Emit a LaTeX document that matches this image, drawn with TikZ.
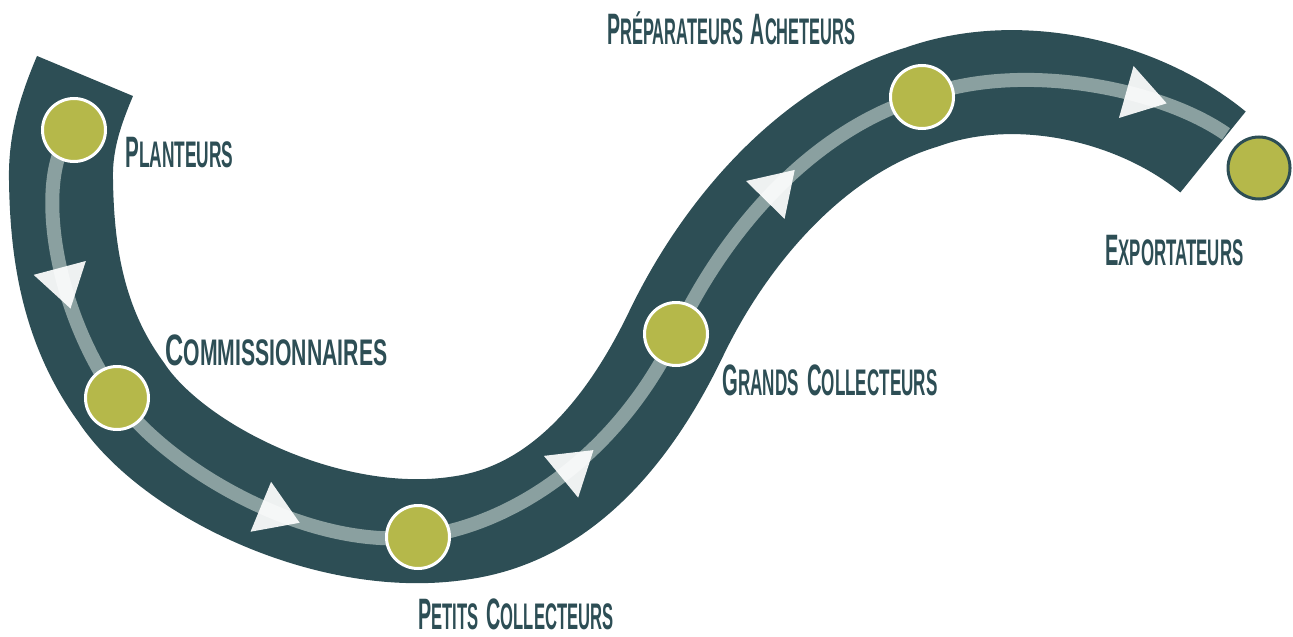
\documentclass[tikz,border=0pt]{standalone}
\usepackage{fontspec}
\setmainfont{Liberation Sans}
\usetikzlibrary{decorations.markings}
\definecolor{bandc}{RGB}{45,78,85}
\definecolor{lanec}{RGB}{138,160,160}
\definecolor{olivec}{RGB}{181,184,74}
\newcommand{\capw}[2]{{\fontsize{22pt}{22pt}\selectfont #1}{\fontsize{18.5pt}{18.5pt}\selectfont #2}}
\newcommand{\fitw}[2]{\resizebox{#1}{\height}{\bfseries #2}}
\newcommand{\wsp}{\hspace{9pt}}
\begin{document}
\begin{tikzpicture}[x=0.5pt,y=-0.5pt,
  bandline/.style={draw=bandc,line width=52pt,line cap=butt},
  laneline/.style={draw=lanec,line width=7pt,line cap=butt},
  arrowat/.style={postaction={decorate,decoration={markings,
     mark=at position #1 with {\fill[white,opacity=0.92] (14pt,0pt) -- (-7pt,13.5pt) -- (-7pt,-13.5pt) -- cycle;}}}},
  station/.style={circle,fill=olivec,draw=white,line width=1.5pt,minimum size=31.5pt,inner sep=0pt},
  endstation/.style={circle,fill=olivec,draw=bandc,line width=1.5pt,minimum size=31pt,inner sep=0pt},
  lab/.style={text=bandc,inner sep=0pt,anchor=base west}]
\useasboundingbox (0,0) rectangle (1293,636);
% positions
\coordinate (bs) at (85,76);
\coordinate (b1) at (61,180);
\coordinate (b2) at (121,392);
\coordinate (b3) at (460,528);
\coordinate (p1) at (74,130);
\coordinate (p2) at (117,398);
\coordinate (p3) at (418,537);
\coordinate (p4) at (676,334);
\coordinate (p5) at (922,97);
\coordinate (be) at (1213,152);
\coordinate (le) at (1226,134);
% band
\draw[bandline] (bs) .. controls (72,107) and (60,140) .. (b1)
  .. controls (62,250) and (72,325) .. (b2)
  .. controls (172,470) and (330,548) .. (b3)
  .. controls (555,515) and (625,440) .. (p4)
  .. controls (725,232) and (812,130) .. (p5)
  .. controls (1020,62) and (1140,92) .. (be);
% lane segments with arrows
\draw[laneline,arrowat=0.55] (p1) .. controls (35,165) and (48,300) .. (p2);
\draw[laneline,arrowat=0.57] (p2) .. controls (169,470) and (308,550) .. (p3);
\draw[laneline,arrowat=0.5] (p3) .. controls (518,525) and (620,450) .. (p4);
\draw[laneline,arrowat=0.5] (p4) .. controls (725,230) and (812,130) .. (p5);
\draw[laneline,arrowat=0.7] (p5) .. controls (1020,60) and (1160,88) .. (le);
% stations
\node[station] (n1) at (p1) {};
\node[station] (n2) at (p2) {};
\node[station] (n3) at (p3) {};
\node[station] (n4) at (p4) {};
\node[station] (n5) at (p5) {};
\node[endstation] (n6) at (1259,168) {};
% labels
\node[lab] (t1) at (125,168) {\fitw{54pt}{\capw{P}{LANTEURS}}};
\node[lab] (t2) at (165,365) {\fitw{111pt}{\capw{C}{OMMISSIONNAIRES}}};
\node[lab] (t3) at (418,629) {\fitw{97.5pt}{\capw{P}{ETITS}\wsp\capw{C}{OLLECTEURS}}};
\node[lab] (t4) at (722,395) {\fitw{107.5pt}{\capw{G}{RANDS}\wsp\capw{C}{OLLECTEURS}}};
\node[lab] (t5) at (607,45) {\fitw{124pt}{\capw{P}{RÉPARATEURS}\wsp\capw{A}{CHETEURS}}};
\node[lab] (t6) at (1105,265) {\fitw{69pt}{\capw{E}{XPORTATEURS}}};
\end{tikzpicture}
\end{document}
